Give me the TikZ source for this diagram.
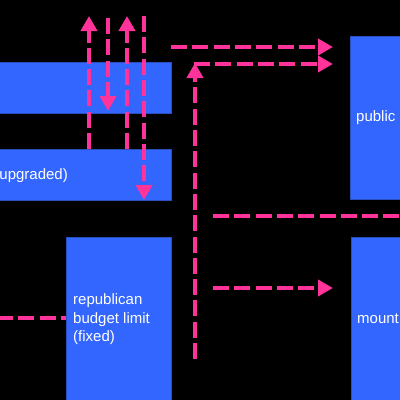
\documentclass[tikz,border=0pt]{standalone}
\usepackage{fontspec}
\setmainfont{Liberation Sans}
\usetikzlibrary{arrows.meta}
\definecolor{boxblue}{HTML}{3366FF}
\definecolor{boxedge}{HTML}{2A4FC0}
\definecolor{linkpink}{HTML}{FF3399}
\begin{document}
\begin{tikzpicture}[x=1pt,y=-1pt,
  box/.style={fill=boxblue,draw=boxedge,line width=0.8pt,inner sep=0pt,outer sep=0pt,rectangle},
  lbl/.style={text=white,font=\fontsize{15}{18.4}\selectfont,inner sep=0pt,align=left},
  link/.style={draw=linkpink,line width=4.8pt,dash pattern=on 16pt off 5.3pt},
  arr/.style={link,-{Triangle[width=16pt 0,length=15pt 0]}}]
\useasboundingbox (0,0) rectangle (400,400);
\fill[black] (0,0) rectangle (400,400);
% boxes
\node[box,minimum width=181pt,minimum height=51pt] (A) at (80.5,87.5) {};
\node[box,minimum width=181pt,minimum height=51pt] (B) at (80.5,174.5) {};
\node[box,minimum width=105pt,minimum height=173pt] (C) at (118.5,323.5) {};
\node[box,minimum width=60pt,minimum height=163pt] (D) at (380,117.5) {};
\node[box,minimum width=59pt,minimum height=173pt] (E) at (380.5,323.5) {};
% labels
\node[lbl,anchor=east] (Bt) at (68,176) {(upgraded)};
\node[lbl,anchor=west] (Ct) at (73,319.5) {republican\\budget limit\\(fixed)};
\node[lbl,anchor=west] (Dt) at (356,118) {public};
\node[lbl,anchor=west] (Et) at (357,319) {mount};
% free ends
\coordinate (t1) at (89,16);
\coordinate (s2) at (108,18);
\coordinate (e2) at (108,111);
\coordinate (t3) at (127,16);
\coordinate (s4) at (144,16);
\coordinate (s5) at (171,47);
\coordinate (e5) at (333,47);
\coordinate (s6) at (195,359);
\coordinate (e6) at (195,63);
\coordinate (s7) at (194,64);
\coordinate (e7) at (333,64);
\coordinate (s8) at (213,216);
\coordinate (e8) at (410,216);
\coordinate (s9) at (213,288);
\coordinate (e9) at (333,288);
\coordinate (s10) at (-3,318);
% connectors
\draw[arr] (B.north -| t1) -- (t1);
\draw[arr] (s2) -- (e2);
\draw[arr] (B.north -| t3) -- (t3);
\draw[arr] (s4) -- (B.south -| s4);
\draw[arr] (s5) -- (e5);
\draw[arr] (s6) -- (e6);
\draw[arr] (s7) -- (e7);
\draw[link] (s8) -- (e8);
\draw[arr] (s9) -- (e9);
\draw[link] (s10) -- (C.west |- s10);
\end{tikzpicture}
\end{document}
